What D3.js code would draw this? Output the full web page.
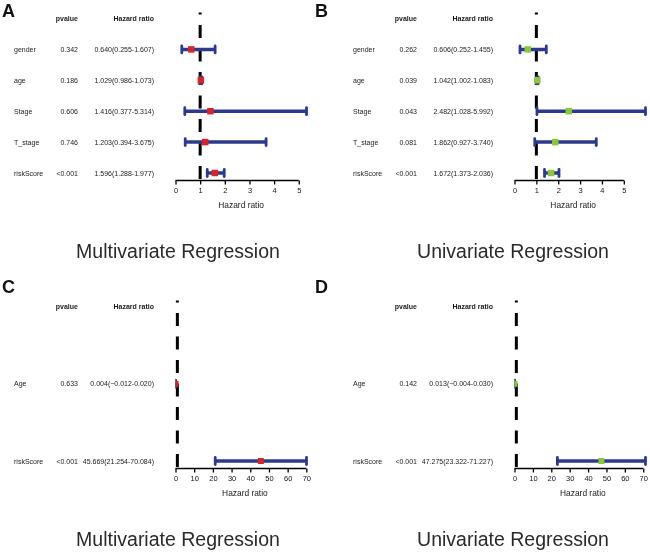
<!DOCTYPE html>
<html>
<head>
<meta charset="utf-8">
<script src="https://cdn.jsdelivr.net/npm/d3@7"></script>
<style>
  html, body { margin: 0; padding: 0; background: #fff; }
  svg { display: block; font-family: "Liberation Sans", Arial, sans-serif; will-change: transform; }
</style>
</head>
<body>
<svg id="chart" width="650" height="553"></svg>
<script>
// ---- data ----
const varsAB = ["gender", "age", "Stage", "T_stage", "riskScore"];
const varsCD = ["Age", "riskScore"];

const pvalA = ["0.342", "0.186", "0.606", "0.746", "<0.001"];
const hrA   = [0.640, 1.029, 1.416, 1.203, 1.596];
const lowA  = [0.255, 0.986, 0.377, 0.394, 1.288];
const highA = [1.607, 1.073, 5.314, 3.675, 1.977];

const pvalB = ["0.262", "0.039", "0.043", "0.081", "<0.001"];
const hrB   = [0.606, 1.042, 2.482, 1.862, 1.672];
const lowB  = [0.252, 1.002, 1.028, 0.927, 1.373];
const highB = [1.455, 1.083, 5.992, 3.740, 2.036];

const pvalC = ["0.633", "<0.001"];
const hrC   = [0.004, 45.669];
const lowC  = [-0.012, 21.254];
const highC = [0.020, 70.084];

const pvalD = ["0.142", "<0.001"];
const hrD   = [0.013, 47.275];
const lowD  = [-0.004, 23.322];
const highD = [0.030, 71.227];

const ticksAB = [0, 1, 2, 3, 4, 5];
const ticksCD = [0, 10, 20, 30, 40, 50, 60, 70];

const panelLetters = ["A", "B", "C", "D"];
const panelTitles = ["Multivariate Regression", "Univariate Regression",
                     "Multivariate Regression", "Univariate Regression"];
const headerP = "pvalue";
const headerHR = "Hazard ratio";
const axisTitle = "Hazard ratio";
const nullValue = 1;

// ---- styling ----
const NAVY = "#2d3a8c";
const RED = "#d2262b";
const GREEN = "#8cc63e";
const FONT = "\"Liberation Sans\", Arial, sans-serif";

const panels = [
  { vars: varsAB, p: pvalA, hr: hrA, lo: lowA, hi: highA, ticks: ticksAB, box: RED,   dx: 0,   dy: 0,   bs: 6.5 },
  { vars: varsAB, p: pvalB, hr: hrB, lo: lowB, hi: highB, ticks: ticksAB, box: GREEN, dx: 339, dy: 0,   bs: 6.5 },
  { vars: varsCD, p: pvalC, hr: hrC, lo: lowC, hi: highC, ticks: ticksCD, box: RED,   dx: 0,   dy: 288, bs: 6 },
  { vars: varsCD, p: pvalD, hr: hrD, lo: lowD, hi: highD, ticks: ticksCD, box: GREEN, dx: 339, dy: 288, bs: 6 }
];

const svg = d3.select("#chart");
svg.append("rect").attr("width", 650).attr("height", 553).attr("fill", "#fff");

const fmt = d3.format(".3f");

panels.forEach((P, pi) => {
  const g = svg.append("g").attr("transform", `translate(${P.dx},${P.dy})`);
  const maxHi = d3.max(P.hi);
  const x = d3.scaleLinear().domain([0, maxHi]).range([175.5, 306.5]);
  const y = d3.scalePoint().domain(["__header", ...P.vars]).range([18.5, 173]);
  const axisY = 180.5;

  const clipId = "clip" + pi;
  g.append("clipPath").attr("id", clipId)
    .append("rect").attr("x", x(0)).attr("y", 0).attr("width", 200).attr("height", 200);

  // header
  g.append("text").attr("x", 78).attr("y", y("__header") + 2.5)
    .attr("text-anchor", "end").attr("font-size", 7).attr("font-weight", "bold")
    .attr("fill", "#1a1a1a").text(headerP);
  g.append("text").attr("x", 154).attr("y", y("__header") + 2.5)
    .attr("text-anchor", "end").attr("font-size", 7).attr("font-weight", "bold")
    .attr("fill", "#1a1a1a").text(headerHR);

  // rows text
  P.vars.forEach((v, i) => {
    const yy = y(v) + 2.5;
    g.append("text").attr("x", 14).attr("y", yy).attr("font-size", 7)
      .attr("fill", "#1a1a1a").text(v);
    g.append("text").attr("x", 78).attr("y", yy).attr("text-anchor", "end")
      .attr("font-size", 7).attr("fill", "#1a1a1a").text(P.p[i]);
    g.append("text").attr("x", 154).attr("y", yy).attr("text-anchor", "end")
      .attr("font-size", 7).attr("fill", "#1a1a1a")
      .text(`${fmt(P.hr[i])}(${fmt(P.lo[i])}-${fmt(P.hi[i])})`);
  });

  // dashed null line
  g.append("line")
    .attr("x1", x(nullValue)).attr("x2", x(nullValue))
    .attr("y1", 12.5).attr("y2", axisY)
    .attr("stroke", "#000").attr("stroke-width", 3)
    .attr("stroke-dasharray", "13,10.5").attr("stroke-dashoffset", 11);

  const plot = g.append("g").attr("clip-path", `url(#${clipId})`);

  // CI lines
  P.vars.forEach((v, i) => {
    const yy = y(v);
    plot.append("line")
      .attr("x1", x(P.lo[i])).attr("x2", x(P.hi[i]))
      .attr("y1", yy).attr("y2", yy)
      .attr("stroke", NAVY).attr("stroke-width", 3.5);
    [P.lo[i], P.hi[i]].forEach(e => {
      plot.append("line")
        .attr("x1", x(e)).attr("x2", x(e))
        .attr("y1", yy - 3.5).attr("y2", yy + 3.5)
        .attr("stroke", NAVY).attr("stroke-width", 2.8)
        .attr("stroke-linecap", "round");
    });
  });
  // boxes
  P.vars.forEach((v, i) => {
    const yy = y(v);
    plot.append("rect")
      .attr("x", x(P.hr[i]) - P.bs / 2).attr("y", yy - P.bs / 2)
      .attr("width", P.bs).attr("height", P.bs)
      .attr("fill", P.box);
  });

  // axis
  const axis = d3.axisBottom(x).tickValues(P.ticks).tickFormat(d3.format("d"))
    .tickSize(4).tickSizeOuter(0).tickPadding(3);
  const ag = g.append("g").attr("transform", `translate(0,${axisY})`).call(axis);
  ag.select(".domain").remove();
  ag.append("line")
    .attr("x1", x(P.ticks[0])).attr("x2", x(P.ticks[P.ticks.length - 1]))
    .attr("stroke", "#000").attr("stroke-width", 1.5);
  ag.selectAll(".tick line").attr("stroke", "#000").attr("stroke-width", 1.3);
  ag.selectAll(".tick text").attr("font-size", 7.5).attr("font-family", FONT).attr("fill", "#111");

  g.append("text")
    .attr("x", (x(P.ticks[0]) + x(P.ticks[P.ticks.length - 1])) / 2 + 4)
    .attr("y", axisY + 27.5).attr("text-anchor", "middle")
    .attr("font-size", 8.4).attr("fill", "#1a1a1a").text(axisTitle);

  // panel title
  g.append("text").attr("x", pi % 2 === 0 ? 178 : 174).attr("y", 257.5).attr("text-anchor", "middle")
    .attr("font-size", 19.5).attr("fill", "#2a2a2a").text(panelTitles[pi]);
});

// panel letters
const letterX = [2, 315];
const letterY = [17, 293];
panelLetters.forEach((L, i) => {
  svg.append("text")
    .attr("x", letterX[i % 2]).attr("y", letterY[Math.floor(i / 2)])
    .attr("font-size", 18).attr("font-weight", "bold").attr("fill", "#111")
    .text(L);
});
</script>
</body>
</html>
